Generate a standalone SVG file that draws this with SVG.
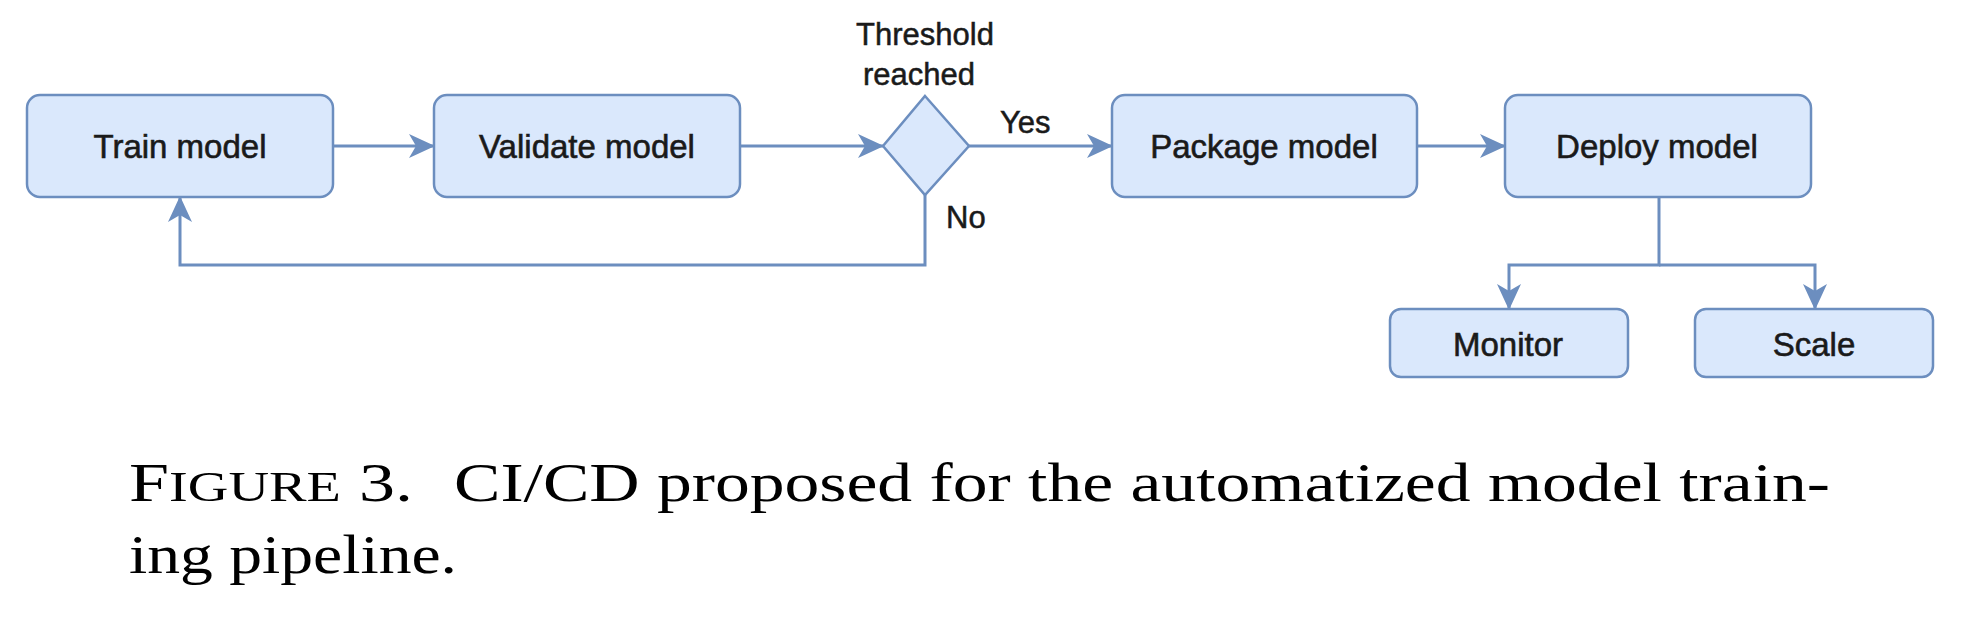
<svg xmlns="http://www.w3.org/2000/svg" width="1980" height="624" viewBox="0 0 1980 624">
  <style>
    .node { fill: #dae8fc; stroke: #6c8ebf; stroke-width: 2.5; }
    .lbl { font-family: "Liberation Sans", Arial, sans-serif; font-size: 33px; fill: #1a1a1a; stroke: #1a1a1a; stroke-width: 0.6; text-anchor: middle; }
    .elbl { font-family: "Liberation Sans", Arial, sans-serif; font-size: 31px; fill: #1a1a1a; stroke: #1a1a1a; stroke-width: 0.5; }
    .edge { fill: none; stroke: #6c8ebf; stroke-width: 3; }
    .cap { font-family: "Liberation Serif", "Times New Roman", serif; font-size: 55px; fill: #000; }
  </style>
  <defs>
    <marker id="arr" markerUnits="userSpaceOnUse" markerWidth="26" markerHeight="24" refX="25" refY="12" orient="auto">
      <path d="M0,0 L26,12 L0,24 L7,12 Z" fill="#6c8ebf"/>
    </marker>
  </defs>
  <rect width="1980" height="624" fill="#ffffff"/>

  <g id="connectors">
    <path class="edge" d="M333,146 H434" marker-end="url(#arr)"/>
    <path class="edge" d="M740,146 H883" marker-end="url(#arr)"/>
    <path class="edge" d="M969,146 H1112" marker-end="url(#arr)"/>
    <path class="edge" d="M1417,146 H1505" marker-end="url(#arr)"/>
    <path class="edge" d="M925,194 V265 H180 V197" marker-end="url(#arr)"/>
    <path class="edge" d="M1659,197 V265 H1509 V309" marker-end="url(#arr)"/>
    <path class="edge" d="M1659,265 H1815 V309" marker-end="url(#arr)"/>
    <text class="elbl" x="1000" y="133">Yes</text>
    <text class="elbl" x="946" y="228">No</text>
  </g>

  <g id="train">
    <rect class="node" x="27" y="95" width="306" height="102" rx="13"/>
    <text class="lbl" x="180" y="158">Train model</text>
  </g>
  <g id="validate">
    <rect class="node" x="434" y="95" width="306" height="102" rx="13"/>
    <text class="lbl" x="587" y="158">Validate model</text>
  </g>
  <g id="threshold">
    <polygon class="node" points="925,96 969,146 925,195 883,146"/>
    <text class="elbl" x="925" y="45" text-anchor="middle">Threshold</text>
    <text class="elbl" x="919" y="85" text-anchor="middle">reached</text>
  </g>
  <g id="package">
    <rect class="node" x="1112" y="95" width="305" height="102" rx="13"/>
    <text class="lbl" x="1264" y="158">Package model</text>
  </g>
  <g id="deploy">
    <rect class="node" x="1505" y="95" width="306" height="102" rx="13"/>
    <text class="lbl" x="1657" y="158">Deploy model</text>
  </g>
  <g id="monitor">
    <rect class="node" x="1390" y="309" width="238" height="68" rx="11"/>
    <text class="lbl" x="1508" y="356">Monitor</text>
  </g>
  <g id="scale">
    <rect class="node" x="1695" y="309" width="238" height="68" rx="11"/>
    <text class="lbl" x="1814" y="356">Scale</text>
  </g>

  <g id="caption">
    <text class="cap" x="129" y="501" textLength="284" lengthAdjust="spacingAndGlyphs">F<tspan font-size="43">IGURE</tspan> 3.</text>
    <text class="cap" x="454" y="501" textLength="1376" lengthAdjust="spacingAndGlyphs">CI/CD proposed for the automatized model train-</text>
    <text class="cap" x="129" y="573" textLength="328" lengthAdjust="spacingAndGlyphs">ing pipeline.</text>
  </g>
</svg>
